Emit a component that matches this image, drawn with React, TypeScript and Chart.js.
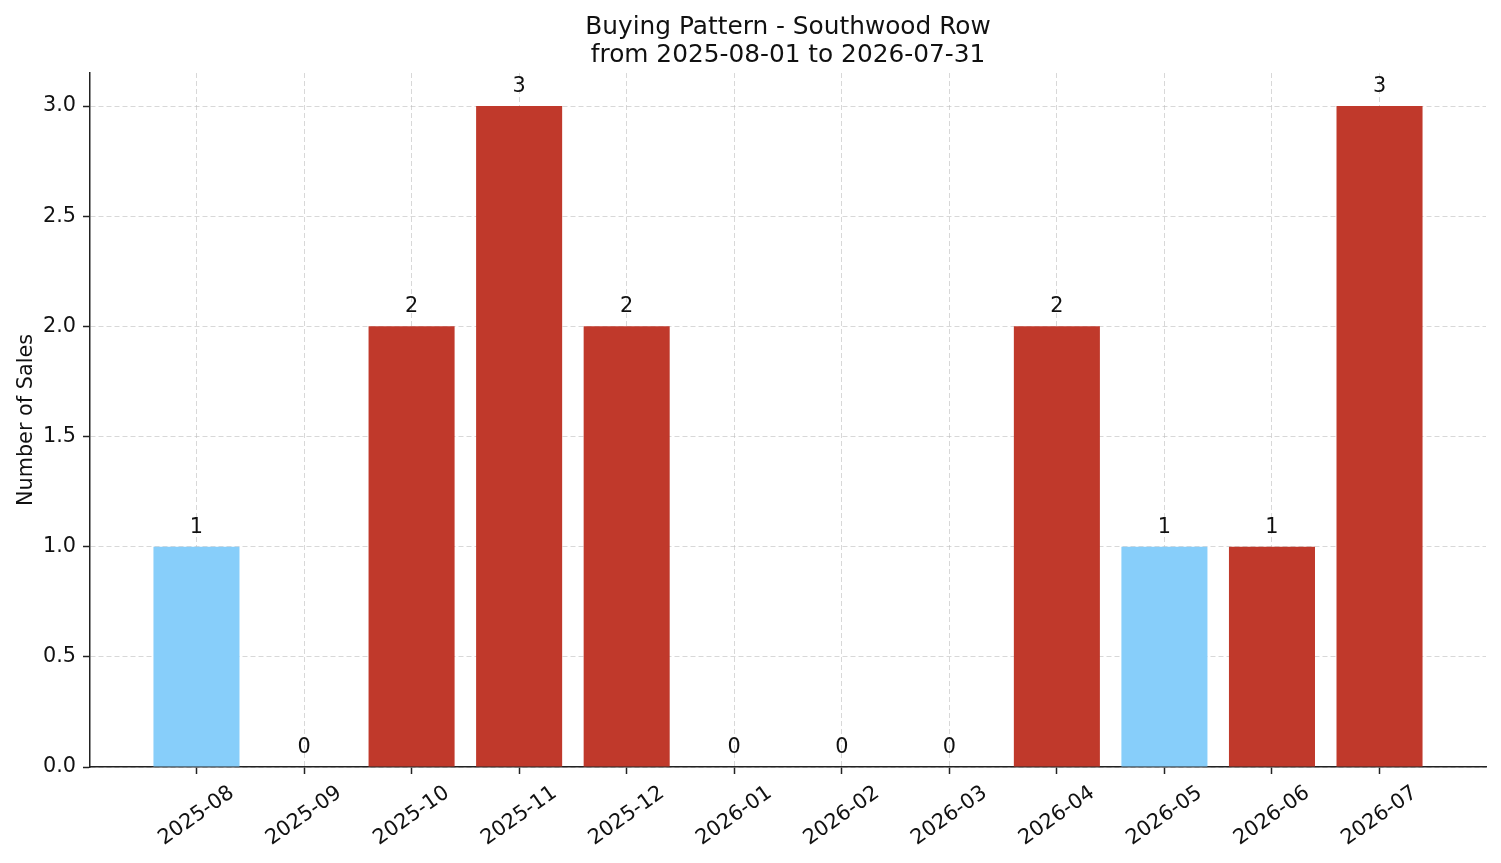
import { useEffect, useRef } from "react";
import { Chart, registerables, Plugin } from "chart.js";

Chart.register(...registerables);

const months = [
  "2025-08",
  "2025-09",
  "2025-10",
  "2025-11",
  "2025-12",
  "2026-01",
  "2026-02",
  "2026-03",
  "2026-04",
  "2026-05",
  "2026-06",
  "2026-07",
];
const sales = [1, 0, 2, 3, 2, 0, 0, 0, 2, 1, 1, 3];
const highlightMonths = ["2025-08", "2026-05"];
const yTicks = [0, 0.5, 1, 1.5, 2, 2.5, 3];

const titleLines = ["Buying Pattern - Southwood Row", "from 2025-08-01 to 2026-07-31"];
const yAxisLabel = "Number of Sales";

const FONT = "'DejaVu Sans', sans-serif";
const RED = "#c0392b";
const BLUE = "#87cefa";
const TEXT = "#111";

// titles, value labels and centred rotated month labels (matplotlib style)
const annotations: Plugin = {
  id: "annotations",
  afterDraw(chart) {
    const { ctx, chartArea } = chart;
    const x = chart.scales.x;
    const y = chart.scales.y;
    ctx.save();
    ctx.fillStyle = TEXT;

    const cx = (chartArea.left + chartArea.right) / 2;
    ctx.font = `24.8px ${FONT}`;
    ctx.textAlign = "center";
    ctx.textBaseline = "alphabetic";
    ctx.fillText(titleLines[0], cx, 34);
    ctx.fillText(titleLines[1], cx, 62);

    ctx.font = `20.8px ${FONT}`;
    ctx.save();
    ctx.translate(32, (chartArea.top + chartArea.bottom) / 2);
    ctx.rotate(-Math.PI / 2);
    ctx.fillText(yAxisLabel, 0, 0);
    ctx.restore();

    sales.forEach((v, i) => {
      ctx.fillText(String(v), x.getPixelForValue(i), y.getPixelForValue(v) - 14);
    });

    ctx.textBaseline = "middle";
    months.forEach((m, i) => {
      ctx.save();
      ctx.translate(x.getPixelForValue(i), 816);
      ctx.rotate((-35 * Math.PI) / 180);
      ctx.fillText(m, 0, 0);
      ctx.restore();
    });
    ctx.restore();
  },
};

export default function App() {
  const canvasRef = useRef<HTMLCanvasElement>(null);

  useEffect(() => {
    document.body.style.margin = "0";
    if (!canvasRef.current) return;

    const gridColor = "rgba(190,190,190,0.6)";
    const chart = new Chart(canvasRef.current, {
      type: "bar",
      data: {
        datasets: [
          {
            data: months.map((m, i) => ({ x: i, y: sales[i] })),
            backgroundColor: months.map((m) =>
              highlightMonths.includes(m) ? BLUE : RED
            ),
            barPercentage: 0.8,
            categoryPercentage: 1,
            borderWidth: 0,
          },
        ],
      },
      options: {
        animation: false,
        responsive: true,
        maintainAspectRatio: false,
        layout: { padding: { top: 73, right: 15, left: 0, bottom: 0 } },
        plugins: {
          legend: { display: false },
          tooltip: { enabled: false },
          title: { display: false },
        },
        scales: {
          x: {
            type: "linear",
            min: -0.99,
            max: 11.99,
            offset: false,
            z: 1,
            afterBuildTicks: (axis) => {
              axis.ticks = months.map((_, i) => ({ value: i }));
            },
            afterFit: (axis) => {
              axis.height = 96;
            },
            ticks: { display: false },
            grid: {
              offset: false,
              color: gridColor,
              lineWidth: 1,
              tickColor: "#222",
              tickLength: 7,
              tickWidth: 1.5,
            },
            border: { display: true, color: "#222", width: 1.5, dash: [5, 3] },
          },
          y: {
            min: 0,
            max: 3.15,
            z: 1,
            afterBuildTicks: (axis) => {
              axis.ticks = yTicks.map((v) => ({ value: v }));
            },
            afterFit: (axis) => {
              axis.width = 90;
            },
            ticks: {
              color: TEXT,
              font: { family: FONT, size: 20.8 },
              padding: 7,
              callback: (v) => Number(v).toFixed(1),
            },
            grid: {
              color: gridColor,
              lineWidth: 1,
              tickColor: "#222",
              tickLength: 7,
              tickWidth: 1.5,
            },
            border: { display: true, color: "#222", width: 1.5, dash: [5, 3] },
          },
        },
      },
      plugins: [annotations],
    });

    return () => {
      chart.destroy();
    };
  }, []);

  return (
    <div style={{ width: "1501px", height: "863px", position: "relative" }}>
      <canvas ref={canvasRef}></canvas>
    </div>
  );
}
